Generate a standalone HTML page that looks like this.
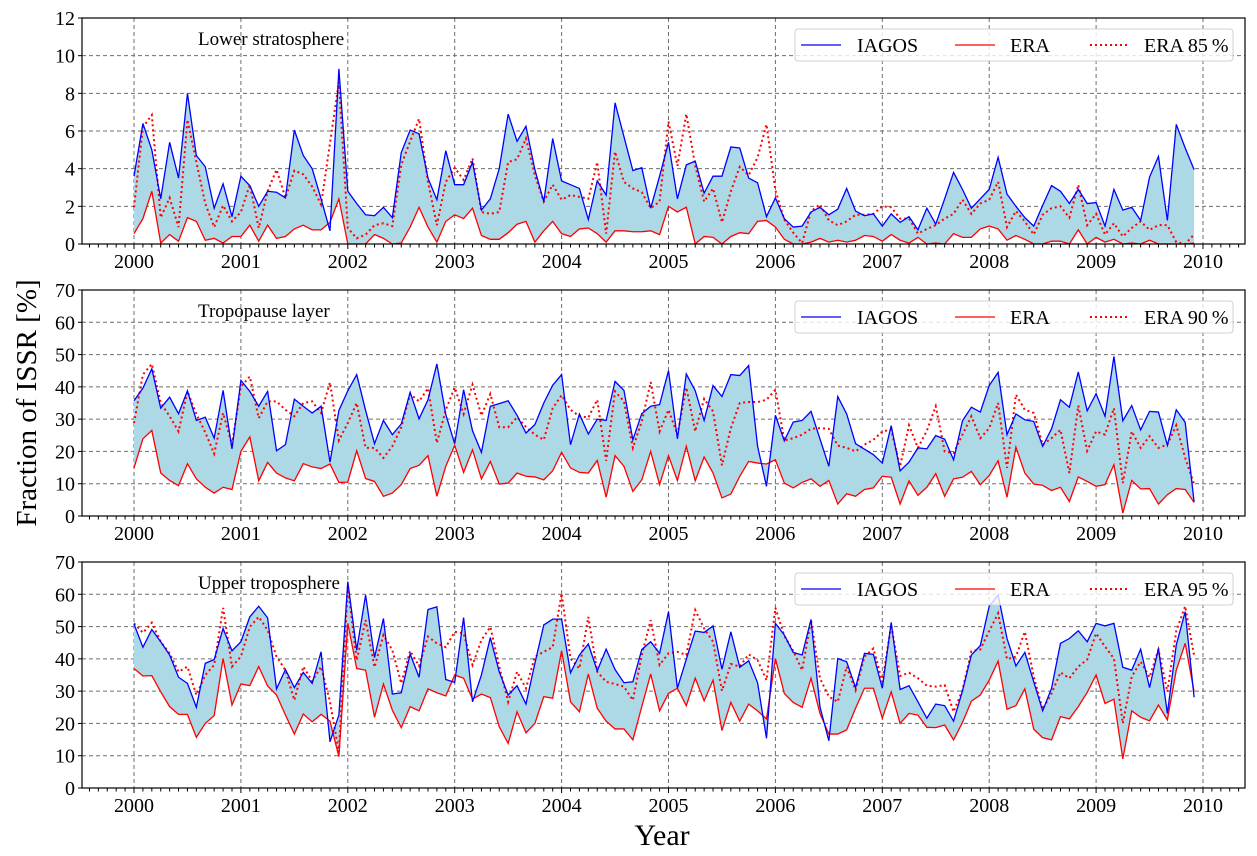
<!DOCTYPE html>
<html><head><meta charset="utf-8"><style>
html,body{margin:0;padding:0;background:#fff;}
svg{display:block;font-family:"Liberation Serif","DejaVu Serif",serif;}
</style></head><body>
<svg id="chart" width="1257" height="856" xmlns="http://www.w3.org/2000/svg"></svg>
<script>
const years = [2000,2001,2002,2003,2004,2005,2006,2007,2008,2009,2010];
const panelTitles = ["Lower stratosphere","Tropopause layer","Upper troposphere"];
const pctLabels = ["85","90","95"];
const yTicks1 = [0,2,4,6,8,10,12];
const yTicks23 = [0,10,20,30,40,50,60,70];

const lsIagos = [3.6,6.4,5.0,2.4,5.4,3.5,8.0,4.7,4.1,1.9,3.2,1.45,3.6,3.1,2.0,2.8,2.75,2.45,6.05,4.7,4.0,2.4,0.7,9.3,2.8,2.15,1.55,1.5,1.95,1.4,4.85,6.05,5.85,3.5,2.35,4.95,3.15,3.15,4.35,1.8,2.4,4.0,6.9,5.45,6.25,3.95,2.25,5.6,3.35,3.15,2.95,1.3,3.35,2.6,7.5,5.7,3.9,4.05,1.9,3.6,5.4,2.4,4.2,4.4,2.7,3.6,3.6,5.15,5.1,3.5,3.25,1.45,2.45,1.35,0.9,0.95,1.7,1.95,1.55,1.85,2.95,1.75,1.5,1.6,0.95,1.6,1.15,1.45,0.75,1.9,1.05,2.4,3.8,2.9,1.9,2.4,2.9,4.6,2.65,2.0,1.4,0.95,2.05,3.1,2.8,2.15,2.9,2.15,2.2,0.95,2.9,1.8,1.95,1.25,3.55,4.65,1.25,6.35,5.1,3.95];
const lsEra = [0.55,1.35,2.8,0.05,0.5,0.15,1.4,1.2,0.2,0.3,0.05,0.4,0.4,1.0,0.15,1.0,0.3,0.4,0.8,1.0,0.75,0.75,1.15,2.4,0,0,0,0.5,0.3,0,0.05,0.9,1.95,0.9,0.1,1.2,1.55,1.35,1.9,0.45,0.25,0.25,0.6,1.05,1.2,0.1,0.7,1.2,0.55,0.4,0.8,0.85,0.55,0.1,0.7,0.7,0.65,0.65,0.7,0.5,2.0,1.7,1.95,0,0.4,0.35,0,0.4,0.6,0.55,1.2,1.25,0.9,0.25,0,0,0.1,0.3,0.1,0.2,0.1,0.2,0.45,0.4,0.15,0.5,0.2,0.05,0.35,0,0.05,0,0.55,0.35,0.35,0.8,0.95,0.8,0.2,0.45,0.25,0,0,0.15,0.15,0,0.75,0,0.35,0.1,0.25,0,0.05,0,0.2,0,0,0,0,0.05];
const lsEraPct = [1.95,6.2,6.85,1.4,2.45,0.9,6.6,4.35,2.15,0.9,2.05,1.2,1.7,3.15,0.85,2.8,3.95,2.45,3.9,3.7,3.05,2.1,5.35,8.6,0.85,0.3,0.5,1.0,1.1,0.95,4.2,5.45,6.65,3.3,1.0,3.3,4.05,3.4,4.55,1.7,1.6,1.7,4.35,4.5,5.6,3.65,2.25,3.15,2.35,2.6,2.5,2.4,4.35,0.55,4.9,3.3,2.95,2.75,1.9,2.25,6.5,4.15,6.9,4.15,2.25,2.95,1.15,2.8,4.1,3.65,4.6,6.35,2.85,1.3,0.6,0.05,1.75,2.1,1.25,1.0,1.2,1.55,1.55,1.6,2.0,1.95,1.35,1.35,0.55,0.8,1.0,1.35,1.6,2.35,1.6,2.15,2.35,3.3,0.9,1.75,1.2,0.5,1.55,1.9,2.0,1.4,3.15,1.0,1.6,0.5,1.1,0.4,0.85,1.2,0.75,1.0,1.0,0.1,0,0.5];

const tpIagos = [35.7,39.6,45.6,33.4,36.8,31.7,38.8,29.6,30.6,24.1,38.9,20.8,42.0,38.6,34.0,38.6,20.2,22.1,36.2,34.0,31.9,34.0,16.7,32.7,38.8,43.8,32.7,22.4,29.6,25.2,28.5,38.3,30.1,36.0,47.1,31.4,22.4,39.1,26.4,19.7,34.0,34.8,35.7,31.2,25.7,28.3,35.0,40.5,43.8,22.1,31.6,25.4,30.0,29.6,41.7,38.9,23.6,31.7,34.0,34.5,45.0,23.9,44.0,38.8,29.6,40.4,37.0,43.8,43.5,46.6,21.6,9.2,31.2,23.3,29.1,29.6,32.4,23.9,15.4,37.0,31.6,22.4,20.7,19.0,16.4,28.0,14.0,16.7,21.1,20.8,24.9,23.8,17.4,29.5,33.7,32.2,40.4,44.5,25.2,31.6,29.8,29.3,21.6,27.0,36.0,33.7,44.6,32.6,37.9,30.9,49.4,29.5,34.2,26.7,32.4,32.2,21.9,32.9,29.0,4.3];
const tpEra = [14.9,23.9,26.5,13.3,11.0,9.4,16.2,11.5,8.9,7.1,8.9,8.2,20.0,24.5,10.9,16.6,13.3,11.8,10.9,16.2,15.2,14.7,16.1,10.4,10.5,20.2,11.6,10.7,6.1,7.1,9.7,14.7,15.7,18.7,6.1,15.4,21.9,13.5,20.5,11.5,16.9,9.9,10.2,13.3,12.3,12.1,11.2,14.0,19.7,14.9,13.5,13.3,17.2,5.8,18.7,15.4,7.6,11.2,20.0,9.7,18.7,11.0,21.6,10.9,18.3,13.3,5.6,6.8,12.3,16.9,16.4,16.1,17.4,10.2,8.7,10.4,11.5,9.2,11.0,3.7,6.9,6.1,8.2,8.7,12.3,12.0,3.7,10.9,6.4,8.9,13.1,6.1,11.5,12.0,13.8,9.7,12.5,17.1,5.8,21.3,13.3,9.9,9.5,7.9,8.9,4.5,12.1,10.7,9.2,9.7,15.9,0.9,11.0,8.4,8.5,3.7,6.6,8.5,8.2,4.2];
const tpEraPct = [28.8,43.8,47.1,35.0,30.9,26.2,38.6,31.6,25.9,19.3,31.9,22.1,40.1,43.2,30.3,35.5,35.5,32.9,30.9,35.0,35.5,31.9,41.4,23.4,28.8,35.0,21.1,21.1,18.0,21.6,27.5,37.8,35.5,39.6,22.6,32.9,39.8,31.6,40.7,31.1,37.8,27.5,27.5,30.6,27.6,25.2,23.6,33.4,37.4,32.9,30.9,30.5,36.0,17.1,38.6,35.5,21.1,29.3,41.5,26.2,32.9,25.2,39.8,26.2,36.3,32.4,15.7,27.2,35.0,35.3,35.3,36.0,39.1,23.4,24.1,25.2,27.0,27.2,27.0,21.8,21.1,20.0,22.1,23.6,26.2,26.7,15.4,28.1,21.1,26.4,34.0,20.0,19.5,25.2,30.9,24.1,27.2,35.0,14.9,37.6,32.9,31.9,22.1,24.1,26.7,13.3,34.2,20.2,26.2,25.2,33.4,10.2,26.2,21.1,24.7,21.1,22.1,28.1,18.0,9.9];

const utIagos = [50.8,43.6,49.1,45.3,41.2,34.3,32.4,25.0,38.6,39.8,49.4,42.5,45.3,53.0,56.3,52.7,30.7,36.7,31.1,35.8,32.4,42.2,14.3,22.6,63.9,42.7,59.8,40.4,52.5,29.1,29.5,41.5,34.3,55.3,56.1,33.6,32.7,52.8,26.7,35.0,46.6,36.0,28.8,31.7,26.0,38.6,50.5,52.3,52.3,35.7,41.2,44.6,36.3,43.0,36.7,32.6,32.9,42.9,45.3,41.7,54.6,30.9,39.9,48.6,48.2,50.2,36.8,48.4,37.4,39.4,32.6,15.4,51.0,47.4,42.0,41.2,52.2,25.2,14.6,40.1,39.1,31.1,41.7,41.4,30.9,51.3,30.5,31.7,26.7,21.6,26.0,25.5,20.7,30.1,41.2,44.1,56.3,59.8,46.3,37.8,42.0,32.9,23.9,30.9,44.8,46.3,48.7,45.3,51.0,50.2,51.0,37.4,36.5,43.0,31.1,43.2,23.1,44.3,54.6,28.1];
const utEra = [37.0,34.7,34.8,29.8,25.2,22.8,22.8,15.7,20.0,22.4,40.1,25.7,32.2,31.7,37.6,31.6,28.8,22.6,16.7,22.9,20.5,22.8,20.7,9.7,51.0,37.0,36.5,21.9,32.2,24.1,18.7,25.2,23.9,30.7,29.5,28.5,35.0,34.0,27.5,29.1,28.0,19.0,13.8,23.6,17.1,20.0,28.3,27.8,42.5,26.7,23.6,35.3,24.7,20.7,18.3,18.3,14.9,25.2,35.3,23.9,29.3,30.9,25.5,34.0,27.0,33.4,17.8,26.5,20.7,26.0,23.9,21.4,40.1,29.3,26.5,25.0,34.0,23.1,16.7,16.7,18.0,24.7,30.9,30.9,21.6,29.8,20.0,23.1,22.6,18.8,18.7,19.5,14.9,20.3,26.9,28.8,33.4,39.3,24.4,25.5,30.7,18.2,15.6,14.9,22.1,21.4,25.2,29.6,35.0,26.2,27.5,9.0,23.9,21.9,20.8,25.7,21.1,36.5,44.8,29.8];
const utEraPct = [51.0,48.1,51.2,45.3,41.7,36.0,37.6,28.8,35.0,38.1,55.8,37.6,40.7,49.9,53.0,48.9,40.7,36.5,27.2,37.6,33.1,37.6,26.7,11.2,62.3,39.6,52.0,37.4,47.4,42.7,32.4,42.5,37.8,46.9,44.8,43.6,48.4,47.9,38.1,45.8,49.9,37.6,26.7,36.0,30.9,40.7,42.2,43.6,60.3,40.1,37.0,53.0,36.0,32.9,32.2,31.4,27.2,41.2,52.0,38.1,41.7,42.2,41.2,55.1,49.4,45.3,30.1,38.4,37.6,41.4,39.6,33.4,55.8,47.1,42.5,36.5,52.0,34.0,28.3,26.7,37.6,30.3,40.7,43.2,32.9,50.5,34.7,35.7,34.0,31.7,31.4,31.9,23.6,30.3,42.4,42.9,48.6,54.1,39.9,40.7,48.4,34.5,24.4,29.3,35.8,34.0,37.6,39.8,47.9,43.8,40.1,20.0,34.5,39.1,34.3,42.9,29.8,48.6,56.3,41.0];

const NS = "http://www.w3.org/2000/svg";
const svg = document.getElementById("chart");
const L = 82, R = 1245, H = 226;
const tops = [18, 290, 562];
function xMonth(m){ return 134 + m * (1203 - 134) / 120; }
function xYear(y){ return xMonth((y - 2000) * 12); }
function mk(tag, attrs, parent){
  const e = document.createElementNS(NS, tag);
  for (const k in attrs) e.setAttribute(k, attrs[k]);
  (parent || svg).appendChild(e);
  return e;
}
const panels = [
  {iagos: lsIagos, era: lsEra, pct: lsEraPct, ymax: 12, ticks: yTicks1},
  {iagos: tpIagos, era: tpEra, pct: tpEraPct, ymax: 70, ticks: yTicks23},
  {iagos: utIagos, era: utEra, pct: utEraPct, ymax: 70, ticks: yTicks23}
];
panels.forEach((p, pi) => {
  const top = tops[pi], bot = top + H;
  const yS = v => bot - v / p.ymax * H;
  const g = mk("g", {});
  
  
  // grid
  p.ticks.forEach(t => {
    const l = mk("line", {x1: L, x2: R, y1: yS(t), y2: yS(t), stroke: "#6e6e6e", "stroke-width": 1, "stroke-dasharray": "4,3"}, g);
    
    
    const tl = mk("text", {x: 75, y: yS(t) + 7, "text-anchor": "end", "font-size": 20, fill: "#000"}, g);
    tl.textContent = t;
    
    
    mk("line", {x1: L - 4, x2: L, y1: yS(t), y2: yS(t), stroke: "#000", "stroke-width": 1}, g);
  });
  years.forEach(y => {
    const x = xYear(y);
    const l = mk("line", {x1: x, x2: x, y1: top, y2: bot, stroke: "#6e6e6e", "stroke-width": 1, "stroke-dasharray": "4,3"}, g);
    
    
    const tl = mk("text", {x: x, y: bot + 24, "text-anchor": "middle", "font-size": 20, fill: "#000"}, g);
    tl.textContent = y;
    
    
  });
  for (let m = -6; m <= 125; m++) {
    const x = xMonth(m);
    if (x < L || x > R) continue;
    mk("line", {x1: x, x2: x, y1: bot, y2: bot + (m % 12 === 0 ? 5 : 3.5), stroke: "#000", "stroke-width": 1}, g);
  }
  // fill
  let pts = p.iagos.map((v, i) => xMonth(i) + "," + yS(v));
  const back = p.era.map((v, i) => xMonth(i) + "," + yS(v)).reverse();
  const fill = mk("polygon", {points: pts.concat(back).join(" "), fill: "#add8e6", stroke: "none"}, g);
  
  
  const lineE = mk("polyline", {points: p.era.map((v, i) => xMonth(i) + "," + yS(v)).join(" "), fill: "none", stroke: "#ff0000", "stroke-width": 1.3}, g);
  
  
  const lineP = mk("polyline", {points: p.pct.map((v, i) => xMonth(i) + "," + yS(v)).join(" "), fill: "none", stroke: "#ff0000", "stroke-width": 2, "stroke-dasharray": "2,3"}, g);
  
  
  const lineI = mk("polyline", {points: pts.join(" "), fill: "none", stroke: "#0000ff", "stroke-width": 1.3}, g);
  
  
  // frame
  const fr = mk("rect", {x: L, y: top, width: R - L, height: H, fill: "none", stroke: "#000", "stroke-width": 1.2}, g);
  
  
  // title
  const tt = mk("text", {x: 198, y: top + 27, "font-size": 19, fill: "#000"}, g);
  tt.textContent = panelTitles[pi];
  
  
  // legend
  const lg = mk("g", {}, g);
  
  
  mk("rect", {x: 795, y: top + 11, width: 438, height: 32, rx: 3, fill: "rgba(255,255,255,0.8)", stroke: "#d0d0d0", "stroke-width": 1}, lg);
  const ly = top + 27;
  mk("line", {x1: 801, x2: 841, y1: ly, y2: ly, stroke: "#0000ff", "stroke-width": 1.3}, lg);
  const t1 = mk("text", {x: 857, y: ly + 7, "font-size": 20}, lg); t1.textContent = "IAGOS";
  
  
  mk("line", {x1: 955, x2: 995, y1: ly, y2: ly, stroke: "#ff0000", "stroke-width": 1.3}, lg);
  const t2 = mk("text", {x: 1010, y: ly + 7, "font-size": 20}, lg); t2.textContent = "ERA";
  
  
  mk("line", {x1: 1090, x2: 1130, y1: ly, y2: ly, stroke: "#ff0000", "stroke-width": 2, "stroke-dasharray": "2,3"}, lg);
  const t3 = mk("text", {x: 1144, y: ly + 7, "font-size": 20}, lg); t3.textContent = "ERA " + pctLabels[pi] + "\u2009%";
  
  
});
const yl = mk("text", {x: 0, y: 0, "font-size": 29, "text-anchor": "middle", transform: "translate(36,403) rotate(-90)"});
yl.textContent = "Fraction of ISSR [%]";


const xl = mk("text", {x: 662, y: 845, "font-size": 30, "text-anchor": "middle"});
xl.textContent = "Year";


</script>
</body></html>
